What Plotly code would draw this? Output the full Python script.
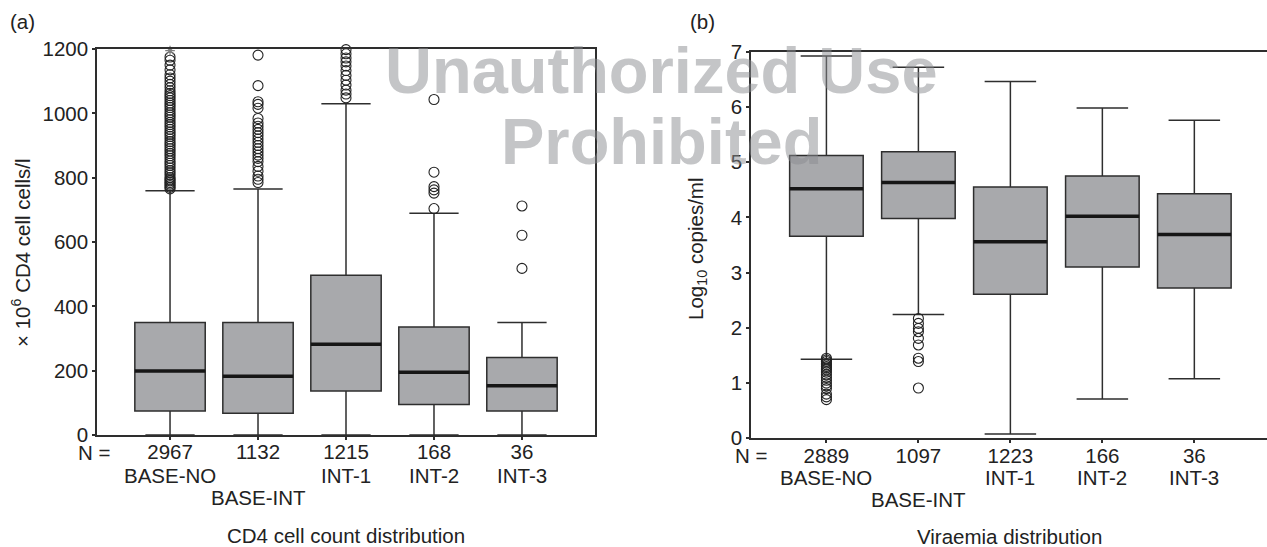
import plotly.graph_objects as go

W, H = 1267, 547

groups = ["BASE-NO", "BASE-INT", "INT-1", "INT-2", "INT-3"]
pos = [0, 1, 2, 3, 4]

# Panel (a): CD4 cell count
cd4_n = ["2967", "1132", "1215", "168", "36"]
cd4_q1 = [75, 68, 137, 95, 75]
cd4_med = [199, 183, 282, 195, 153]
cd4_q3 = [350, 350, 497, 336, 241]
cd4_lo = [0, 0, 0, 0, 0]
cd4_hi = [759, 765, 1030, 689, 350]
cd4_out_base_no = [765, 770, 775, 780, 785, 790, 795, 800, 808, 815, 822, 830, 838, 845,
                   852, 860, 868, 875, 883, 890, 898, 905, 912, 920, 928, 935, 942, 950,
                   958, 965, 972, 980, 988, 995, 1002, 1010, 1018, 1025, 1032, 1040, 1048,
                   1055, 1062, 1070, 1080, 1090, 1100, 1110, 1120, 1135, 1150, 1165, 1175]
cd4_extreme_base_no = [1195]
cd4_out_base_int = [1181, 1086, 1036, 1028, 1016, 984, 970, 960, 950, 940, 930, 920, 910,
                    900, 890, 880, 870, 860, 850, 835, 820, 805, 795, 785]
cd4_out_int1 = [1198, 1185, 1172, 1160, 1147, 1133, 1118, 1103, 1088, 1072, 1060, 1048]
cd4_out_int2 = [1043, 817, 772, 762, 752, 704]
cd4_out_int3 = [712, 621, 518]

# Panel (b): Viraemia
vir_n = ["2889", "1097", "1223", "166", "36"]
vir_q1 = [3.66, 3.98, 2.61, 3.10, 2.72]
vir_med = [4.52, 4.63, 3.56, 4.02, 3.69]
vir_q3 = [5.12, 5.19, 4.55, 4.75, 4.43]
vir_lo = [1.43, 2.24, 0.08, 0.71, 1.08]
vir_hi = [6.92, 6.72, 6.46, 5.98, 5.76]
vir_out_base_no = [1.45, 1.42, 1.39, 1.36, 1.33, 1.30, 1.27, 1.24, 1.20, 1.15, 1.10,
                   1.05, 1.00, 0.95, 0.90, 0.80, 0.75, 0.70]
vir_out_base_int = [2.17, 2.08, 1.99, 1.93, 1.81, 1.69, 1.45, 1.39, 0.91]

BOXW = 0.8
FILL = "#a8a9ac"
LINE = "#2e2e2e"
FONT = "Liberation Sans, Arial, sans-serif"
FS = 20.5

fig = go.Figure()


def add_panel(xa, ya, q1, med, q3, lo, hi, outliers):
    fig.add_trace(go.Box(
        x=pos, q1=q1, median=med, q3=q3, lowerfence=lo, upperfence=hi,
        width=BOXW, whiskerwidth=0.7, fillcolor=FILL,
        line=dict(color=LINE, width=1.5), boxpoints=False,
        xaxis=xa, yaxis=ya, showlegend=False))
    mx, my = [], []
    for p, m in zip(pos, med):
        mx += [p - BOXW / 2, p + BOXW / 2, None]
        my += [m, m, None]
    fig.add_trace(go.Scatter(x=mx, y=my, mode="lines",
                             line=dict(color="#161616", width=3.5),
                             xaxis=xa, yaxis=ya, showlegend=False, hoverinfo="skip"))
    for p, vals in outliers:
        fig.add_trace(go.Scatter(
            x=[p] * len(vals), y=vals, mode="markers",
            marker=dict(symbol="circle-open", size=10, color="#222",
                        line=dict(width=1.1, color="#222")),
            xaxis=xa, yaxis=ya, showlegend=False, cliponaxis=False))


add_panel("x", "y", cd4_q1, cd4_med, cd4_q3, cd4_lo, cd4_hi,
          [(0, cd4_out_base_no), (1, cd4_out_base_int), (2, cd4_out_int1),
           (3, cd4_out_int2), (4, cd4_out_int3)])
fig.add_trace(go.Scatter(x=[0] * len(cd4_extreme_base_no), y=cd4_extreme_base_no,
                         mode="markers",
                         marker=dict(symbol="asterisk-open", size=8,
                                     line=dict(width=1.2, color="#222")),
                         showlegend=False, cliponaxis=False))
add_panel("x2", "y2", vir_q1, vir_med, vir_q3, vir_lo, vir_hi,
          [(0, vir_out_base_no), (1, vir_out_base_int)])

axis_common = dict(showline=True, linecolor=LINE, linewidth=1.5, showgrid=False,
                   zeroline=False, ticks="outside", ticklen=3, tickcolor=LINE,
                   tickwidth=1.5, automargin=False,
                   tickfont=dict(family=FONT, size=FS, color="#222"))

fig.update_layout(
    width=W, height=H, margin=dict(l=0, r=0, t=0, b=0),
    paper_bgcolor="white", plot_bgcolor="white", template="none",
    xaxis=dict(domain=[97 / W, 595 / W], range=[-0.83, 4.83], tickvals=pos,
               ticktext=cd4_n, mirror=True, anchor="y", ticklabelstandoff=-5,
               **axis_common),
    yaxis=dict(domain=[1 - 435 / H, 1 - 49 / H], range=[0, 1200],
               tickvals=[0, 200, 400, 600, 800, 1000, 1200], mirror=True,
               anchor="x", **axis_common),
    xaxis2=dict(domain=[751 / W, 1.0], range=[-0.82, 4.79], tickvals=pos,
                ticktext=vir_n, mirror=True, anchor="y2", ticklabelstandoff=-5,
                **axis_common),
    yaxis2=dict(domain=[1 - 438.3 / H, 1 - 51.7 / H], range=[0, 7],
                tickvals=[0, 1, 2, 3, 4, 5, 6, 7], mirror=False, anchor="x2",
                **axis_common),
)


def ann(text, x, y, xref="paper", size=FS, xanchor="center", yanchor="middle", **kw):
    fig.add_annotation(text=text, x=x if xref != "paper" else x / W, y=1 - y / H,
                       xref=xref, yref="paper", showarrow=False,
                       xanchor=xanchor, yanchor=yanchor,
                       font=dict(family=FONT, size=size, color=kw.pop("color", "#222")),
                       **kw)


# Panel labels
ann("(a)", 8, 22, xanchor="left")
ann("(b)", 688, 22, xanchor="left")
# N =
ann("N =", 94, 452)
ann("N =", 751, 455)
# group names
cd4_rows = [475, 497, 475, 475, 475]
vir_rows = [477, 499, 477, 477, 477]
for p, g, yr in zip(pos, groups, cd4_rows):
    ann(g, p, yr, xref="x")
for p, g, yr in zip(pos, groups, vir_rows):
    ann(g, p, yr, xref="x2")
# titles
ann("CD4 cell count distribution", 346, 535)
ann("Viraemia distribution", 1009, 536)
ann("× 10<sup>6</sup> CD4 cell cells/l", 21, 253, textangle=-90)
ann("Log<sub>10</sub> copies/ml", 697, 249, textangle=-90)
# watermark (semi-transparent so the chart lines show through)
WM = "rgba(138,140,144,0.5)"
ann("<b>Unauthorized Use</b>", 661, 70, size=65, color=WM)
ann("<b>Prohibited</b>", 661, 142, size=65, color=WM)

fig.write_html("out.html", config={"displayModeBar": False},
               post_script="document.body.style.margin='0';")
